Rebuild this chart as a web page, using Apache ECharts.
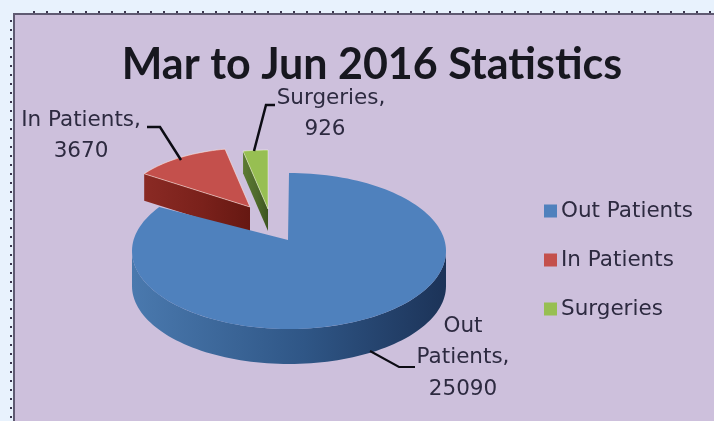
<!DOCTYPE html>
<html>
<head>
<meta charset="utf-8">
<style>html,body{margin:0;padding:0;background:#e8f2fd}#chart{width:714px;height:421px}</style>
<script src="https://cdn.jsdelivr.net/npm/echarts@6/dist/echarts.min.js"></script>
</head>
<body>
<div id="chart"></div>
<script>
// Patient statistics for the period
const categories = ['Out Patients', 'In Patients', 'Surgeries'];
const patientCounts = [25090, 3670, 926];
const chartTitle = 'Mar to Jun 2016 Statistics';

const total = patientCounts.reduce((a, b) => a + b, 0);
const labelFont = '"DejaVu Sans", sans-serif';
const labelSize = 21.5;

// Geometry of each tilted slice: centre of its ellipse, tip, radii and extrusion
const sliceShape = [
  { cx: 289, cy: 251, tipX: 288, tipY: 240, rx: 157, ry: 78, depth: 35 },
  { cx: 250, cy: 207, tipX: 250, tipY: 207, rx: 128, ry: 59, depth: 27 },
  { cx: 268, cy: 209, tipX: 268, tipY: 209, rx: 128, ry: 59, depth: 22 }
];
const sliceTop = ['#4f81bd', '#c4504c', '#97bf52'];
const sliceRim = [null, 'rgba(255,235,225,0.55)', 'rgba(255,255,235,0.45)'];
const sliceWall = [
  ['#4a79ae', '#2f5686', '#1c3358'],
  ['#8a2a24', '#7a211b', '#661812'],
  ['#5c7a33', '#4f6a2b', '#3d5520']
];
const labelLines = [
  ['Out', 'Patients,'],
  ['In Patients,'],
  ['Surgeries,']
];
const labelPos = [
  { x: 463, y: 326 },
  { x: 81, y: 120 },
  { x: 331, y: 98 }
];
const leaders = [
  [[370, 351], [399, 367], [415, 367]],
  [[147, 127], [160, 127], [181, 160]],
  [[275, 105], [266, 105], [254, 151]]
];

const rad = d => d * Math.PI / 180;

function outerPoint(s, deg, dy) {
  return [s.cx + s.rx * Math.sin(rad(deg)), s.cy - s.ry * Math.cos(rad(deg)) + (dy || 0)];
}

function arcPoints(s, from, to, dy) {
  const pts = [];
  const n = Math.max(2, Math.ceil(Math.abs(to - from) / 2));
  for (let i = 0; i <= n; i++) pts.push(outerPoint(s, from + (to - from) * i / n, dy));
  return pts;
}

// Draws one extruded slice whose sweep comes from its share of the total
function renderSlice(index) {
  return function (params, api) {
    const value = api.value(0);
    const before = patientCounts.slice(0, index).reduce((a, b) => a + b, 0);
    const start = before / total * 360;
    const end = start + value / total * 360;
    const s = sliceShape[index];
    const wall = sliceWall[index];
    const grad = new echarts.graphic.LinearGradient(0, 0, 1, 0, [
      { offset: 0, color: wall[0] }, { offset: 0.55, color: wall[1] }, { offset: 1, color: wall[2] }
    ]);
    const children = [];

    if (end - start > 180) {
      // the rim of the large slice faces the viewer between 90 and 270 degrees
      const rimTop = arcPoints(s, Math.max(start, 90), Math.min(end, 270), 0);
      const rimBottom = arcPoints(s, Math.min(end, 270), Math.max(start, 90), s.depth);
      children.push({ type: 'polygon', shape: { points: rimTop.concat(rimBottom) }, style: { fill: grad } });
    } else {
      // smaller slices show the cut face along their starting edge
      const a = outerPoint(s, start);
      children.push({
        type: 'polygon',
        shape: { points: [a, [s.tipX, s.tipY], [s.tipX, s.tipY + s.depth], [a[0], a[1] + s.depth]] },
        style: { fill: grad }
      });
    }

    const top = [[s.tipX, s.tipY]].concat(arcPoints(s, start, end, 0));
    children.push({
      type: 'polygon',
      shape: { points: top },
      style: { fill: sliceTop[index], stroke: sliceRim[index], lineWidth: 1 }
    });

    // leader line
    children.push({
      type: 'polyline',
      shape: { points: leaders[index] },
      z2: 20,
      style: { fill: null, stroke: '#0c0c14', lineWidth: index === 0 ? 2 : 2.5 }
    });

    // data label: category on its wrapped lines, then the value
    const lines = labelLines[index].concat([String(value)]);
    const p = labelPos[index];
    lines.forEach((t, i) => {
      const isValueOfSurgeries = index === 2 && i === 1;
      children.push({
        type: 'text',
        z2: 21,
        style: {
          text: t, x: isValueOfSurgeries ? p.x - 6 : p.x, y: p.y + i * 31.5, align: 'center', verticalAlign: 'middle',
          font: labelSize + 'px ' + labelFont, fill: '#2d2a40'
        }
      });
    });
    return { type: 'group', children };
  };
}

const chart = echarts.init(document.getElementById('chart'), null, { renderer: 'canvas' });

// Drawing order keeps the large slice in front of the two pulled-out ones
const drawOrder = [1, 2, 0];

chart.setOption({
  animation: false,
  backgroundColor: '#e8f2fd',
  title: {
    text: chartTitle,
    left: 367, top: 39, textAlign: 'center',
    textStyle: { fontFamily: 'Lato, sans-serif', fontWeight: 'bold', fontSize: 43, color: '#17171f' }
  },
  legend: {
    orient: 'vertical',
    left: 539, top: 195,
    itemWidth: 13, itemHeight: 13, itemGap: 27,
    icon: 'rect',
    data: categories,
    textStyle: { fontFamily: labelFont, fontSize: labelSize, color: '#2d2a40', padding: [0, 0, 0, -1] }
  },
  graphic: [
    { type: 'rect', z: -10, shape: { x: 14, y: 14, width: 702, height: 409 }, style: { fill: '#cdc0dc', stroke: '#5f5a72', lineWidth: 2 } },
    { type: 'line', z: -9, shape: { x1: 33, y1: 12, x2: 714, y2: 12 }, style: { stroke: '#3c3850', lineWidth: 2, lineDash: [2, 11] } },
    { type: 'line', z: -9, shape: { x1: 11, y1: 20, x2: 11, y2: 421 }, style: { stroke: '#3c3850', lineWidth: 2, lineDash: [2, 7] } }
  ],
  series: drawOrder.map(i => ({
    type: 'custom',
    name: categories[i],
    coordinateSystem: 'none',
    silent: true,
    clip: false,
    z: 2 + drawOrder.indexOf(i),
    itemStyle: { color: sliceTop[i] },
    data: [[patientCounts[i]]],
    renderItem: renderSlice(i)
  }))
});
</script>
</body>
</html>
